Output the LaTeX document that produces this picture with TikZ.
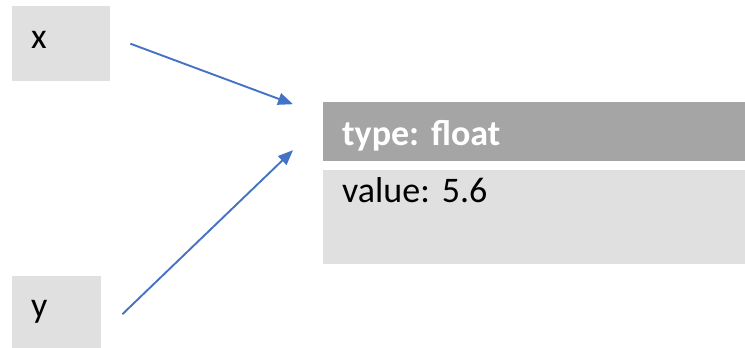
\documentclass[tikz,border=0pt]{standalone}
\usepackage{fontspec}
\setmainfont{Carlito}
\usepackage{tikz}
\usetikzlibrary{arrows.meta, positioning, calc}

\definecolor{boxgray}{HTML}{E0E0E0}
\definecolor{headgray}{HTML}{A5A5A5}
\definecolor{linkblue}{HTML}{4472C4}
\frenchspacing

\begin{document}
\begin{tikzpicture}[x=1pt, y=-1pt,
        every node/.style={inner xsep=19pt, inner ysep=0pt, align=left, anchor=north west,
            font=\fontsize{36}{43}\selectfont},
        varbox/.style={fill=boxgray},
        header/.style={fill=headgray, text=white, font=\fontsize{36}{43}\selectfont\bfseries,
            text width=384pt, text height=43pt, text depth=16pt},
        body/.style={fill=boxgray, text width=384pt, text height=33pt, text depth=61pt},
        link/.style={linkblue, line width=1.9pt, -{Triangle[length=15pt, width=12pt]}}
    ]
        \useasboundingbox (0,0) rectangle (745,348);

        % variable names
        \node [varbox, text width=60pt, text height=42pt, text depth=33pt] (x) at (12,6) {x};
        \node [varbox, text width=51pt, text height=41pt, text depth=31pt] (y) at (12,276) {y};

        % the object
        \node [header] (type) at (323,102) {type: float};
        \node [body, below=8pt of type] (value) {value: 5.6};

        % references
        \coordinate (xstart) at ($(x.east)+(20,0)$);
        \coordinate (ystart) at ($(y.east)+(21,2)$);
        \coordinate (xend) at ($(type.west)+(-30,-27.5)$);
        \coordinate (yend) at ($(type.west)+(-30,18.5)$);
        \draw[link] (xstart) -- (xend);
        \draw[link] (ystart) -- (yend);
    \end{tikzpicture}
\end{document}
